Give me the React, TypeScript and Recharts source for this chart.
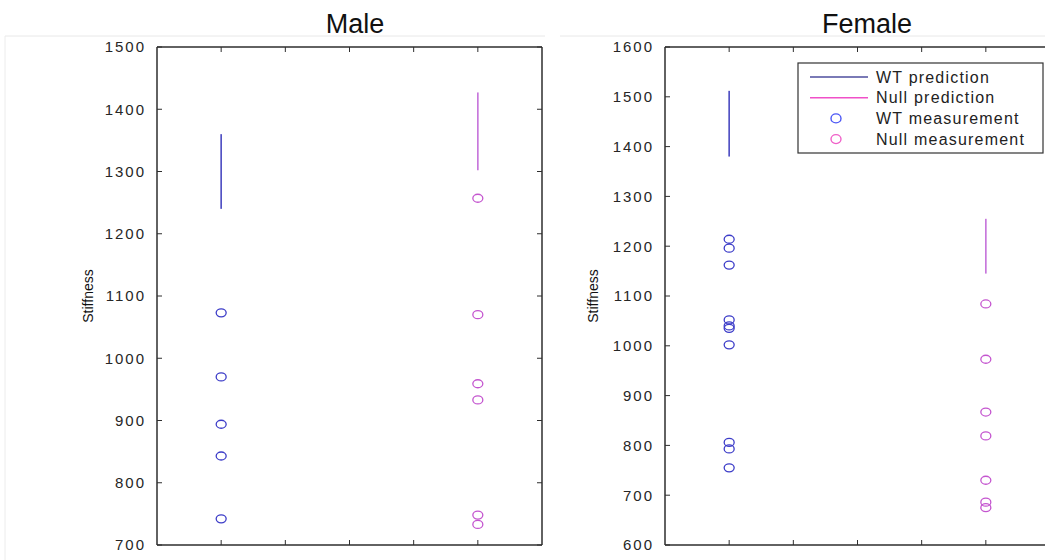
import React from 'react';
import { ScatterChart, Scatter, XAxis, YAxis } from 'recharts';

// ---- data ----
const groups = ['WT', 'Null'];
const groupX: Record<string, number> = { WT: 1, Null: 5 };
const xDomain: [number, number] = [0, 6];
const xTicks = [1, 2, 3, 4, 5];

const maleYTicks = [700, 800, 900, 1000, 1100, 1200, 1300, 1400, 1500];
const femaleYTicks = [600, 700, 800, 900, 1000, 1100, 1200, 1300, 1400, 1500, 1600];

const maleWtPrediction = [1240, 1360];
const maleNullPrediction = [1302, 1427];
const maleWtMeasurement = [1073, 970, 894, 843, 742];
const maleNullMeasurement = [1257, 1070, 959, 933, 748, 733];

const femaleWtPrediction = [1380, 1512];
const femaleNullPrediction = [1145, 1255];
const femaleWtMeasurement = [1214, 1196, 1162, 1052, 1040, 1035, 1002, 806, 793, 755];
const femaleNullMeasurement = [1084, 973, 867, 819, 730, 686, 675];

const seriesNames = ['WT prediction', 'Null prediction', 'WT measurement', 'Null measurement'];

// ---- styles ----
const WT_LINE = '#5252c4';
const NULL_LINE = '#c878dc';
const WT_MARK = '#3c3cc8';
const NULL_MARK = '#c455cf';
const AXIS = '#2e2e2e';
const FONT = 'Liberation Sans, Arial, sans-serif';

const toPoints = (group: string, values: number[]) => values.map((v) => ({ x: groupX[group], y: v }));

const makeEllipse = (color: string) => (props: any) => (
  <ellipse cx={props.cx} cy={props.cy} rx={5} ry={4} fill="none" stroke={color} strokeWidth={1.3} />
);
const noShape = () => <g />;
const emptyTick = () => <g />;

type PanelProps = {
  left: number;
  width: number;
  yAxisWidth: number;
  marginRight: number;
  yDomain: [number, number];
  yTicks: number[];
  wtPred: number[];
  nullPred: number[];
  wtMeas: number[];
  nullMeas: number[];
};

const tickStyle = { fontSize: 15, fill: '#262626', fontFamily: FONT, letterSpacing: 2 };

function Panel(p: PanelProps) {
  return (
    <div style={{ position: 'absolute', left: p.left, top: 0 }}>
      <ScatterChart width={p.width} height={560} margin={{ top: 47, right: p.marginRight, bottom: 15, left: 0 }}>
        <XAxis xAxisId="B" type="number" dataKey="x" domain={xDomain} ticks={xTicks} allowDataOverflow interval={0}
          orientation="bottom" mirror height={1} tick={emptyTick} tickSize={5} tickLine={{ stroke: AXIS }} axisLine={{ stroke: AXIS, strokeWidth: 1.5 }} />
        <XAxis xAxisId="T" type="number" dataKey="x" domain={xDomain} ticks={xTicks} allowDataOverflow interval={0}
          orientation="top" mirror height={1} tick={emptyTick} tickSize={5} tickLine={{ stroke: AXIS }} axisLine={{ stroke: AXIS, strokeWidth: 1.5 }} />
        <YAxis yAxisId="L" type="number" dataKey="y" domain={p.yDomain} ticks={p.yTicks} allowDataOverflow interval={0}
          orientation="left" width={p.yAxisWidth} tickLine={false} tickSize={0} tickMargin={11} tick={tickStyle}
          axisLine={{ stroke: AXIS, strokeWidth: 1.5 }} />
        <YAxis yAxisId="Lt" type="number" domain={p.yDomain} ticks={p.yTicks} allowDataOverflow interval={0}
          orientation="left" mirror width={1} tick={emptyTick} tickSize={5} tickLine={{ stroke: AXIS }} axisLine={false} />
        <YAxis yAxisId="R" type="number" domain={p.yDomain} ticks={p.yTicks} allowDataOverflow interval={0}
          orientation="right" mirror width={1} tick={emptyTick} tickSize={5} tickLine={{ stroke: AXIS }} axisLine={{ stroke: AXIS, strokeWidth: 1.5 }} />
        <Scatter name={seriesNames[0]} xAxisId="B" yAxisId="L" data={toPoints('WT', p.wtPred)} fill={WT_LINE}
          line={{ stroke: WT_LINE, strokeWidth: 1.7 }} shape={noShape} isAnimationActive={false} />
        <Scatter name={seriesNames[1]} xAxisId="B" yAxisId="L" data={toPoints('Null', p.nullPred)} fill={NULL_LINE}
          line={{ stroke: NULL_LINE, strokeWidth: 1.7 }} shape={noShape} isAnimationActive={false} />
        <Scatter name={seriesNames[2]} xAxisId="B" yAxisId="L" data={toPoints('WT', p.wtMeas)} fill={WT_MARK}
          shape={makeEllipse(WT_MARK)} isAnimationActive={false} />
        <Scatter name={seriesNames[3]} xAxisId="B" yAxisId="L" data={toPoints('Null', p.nullMeas)} fill={NULL_MARK}
          shape={makeEllipse(NULL_MARK)} isAnimationActive={false} />
      </ScatterChart>
    </div>
  );
}

const legendItems = [
  { name: seriesNames[0], kind: 'line', color: '#4e4e9e' },
  { name: seriesNames[1], kind: 'line', color: '#f050c8' },
  { name: seriesNames[2], kind: 'mark', color: '#4a55f5' },
  { name: seriesNames[3], kind: 'mark', color: '#f060c8' },
];

export default function App() {
  return (
    <div style={{ position: 'absolute', left: 0, top: 0, width: 1045, height: 560, overflow: 'hidden', background: '#fff' }}>
      <Panel left={0} width={560} yAxisWidth={157} marginRight={18} yDomain={[700, 1500]} yTicks={maleYTicks}
        wtPred={maleWtPrediction} nullPred={maleNullPrediction} wtMeas={maleWtMeasurement} nullMeas={maleNullMeasurement} />
      <Panel left={520} width={560} yAxisWidth={145} marginRight={30} yDomain={[600, 1600]} yTicks={femaleYTicks}
        wtPred={femaleWtPrediction} nullPred={femaleNullPrediction} wtMeas={femaleWtMeasurement} nullMeas={femaleNullMeasurement} />
      <svg width={1045} height={560} style={{ position: 'absolute', left: 0, top: 0, pointerEvents: 'none' }}>
        <line x1={5} y1={36} x2={545} y2={36} stroke="#e8e8e8" />
        <line x1={5} y1={36} x2={5} y2={560} stroke="#ececec" />
        <line x1={560} y1={36} x2={1045} y2={36} stroke="#e8e8e8" />
        <text x={355} y={33} textAnchor="middle" fontSize={27} fontFamily={FONT} fill="#111">Male</text>
        <text x={867} y={33} textAnchor="middle" fontSize={27} fontFamily={FONT} fill="#111">Female</text>
        <text transform="translate(93,296) rotate(-90)" textAnchor="middle" fontSize={14} fontFamily={FONT} fill="#111">Stiffness</text>
        <text transform="translate(598,296) rotate(-90)" textAnchor="middle" fontSize={14} fontFamily={FONT} fill="#111">Stiffness</text>
        <rect x={798} y={63} width={245} height={90} fill="#fff" stroke="#333" strokeWidth={1.2} />
        {legendItems.map((it, i) => {
          const y = 77 + i * 20.7;
          return (
            <g key={it.name}>
              {it.kind === 'line' ? (
                <line x1={810} y1={y} x2={868} y2={y} stroke={it.color} strokeWidth={1.4} />
              ) : (
                <ellipse cx={836} cy={y} rx={5} ry={4.5} fill="none" stroke={it.color} strokeWidth={1.4} />
              )}
              <text x={876} y={y + 5.5} fontSize={16} fontFamily={FONT} letterSpacing={1.2} fill="#222">{it.name}</text>
            </g>
          );
        })}
      </svg>
    </div>
  );
}
